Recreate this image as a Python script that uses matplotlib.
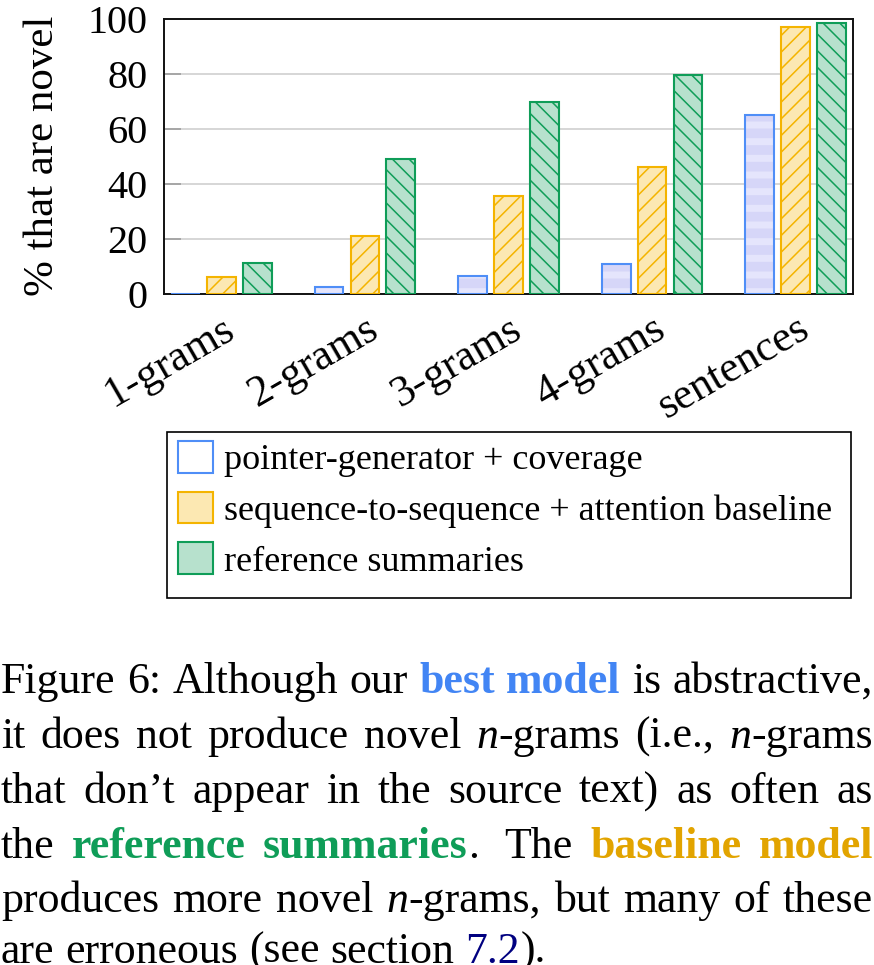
import matplotlib
matplotlib.use('Agg')
import matplotlib.pyplot as plt
import matplotlib.transforms as mtransforms
import numpy as np
from matplotlib.patches import Patch, Rectangle

plt.rcParams['font.family'] = ['Liberation Serif', 'DejaVu Serif']
plt.rcParams['hatch.linewidth'] = 1.1

# data
categories = ['1-grams', '2-grams', '3-grams', '4-grams', 'sentences']
pointer_gen = [0.1, 2.7, 6.7, 10.8, 65.1]
seq2seq = [6.3, 21.2, 35.6, 46.2, 97.0]
reference = [11.4, 49.1, 69.9, 79.8, 98.7]
series_labels = ['pointer-generator + coverage',
                 'sequence-to-sequence + attention baseline',
                 'reference summaries']
y_ticks = [0, 20, 40, 60, 80, 100]

# caption runs: (text, style)
caption = [
    [('Figure 6: Although our ', 'n'), ('best model', 'blue'), (' is abstractive,', 'n')],
    [('it does not produce novel ', 'n'), ('n', 'it'), ('-grams (i.e., ', 'n'), ('n', 'it'), ('-grams', 'n')],
    [('that don\u2019t appear in the source text) as often as', 'n')],
    [('the ', 'n'), ('reference summaries', 'green'), ('.  The ', 'n'), ('baseline model', 'gold')],
    [('produces more novel ', 'n'), ('n', 'it'), ('-grams, but many of these', 'n')],
    [('are erroneous (see section ', 'n'), ('7.2', 'link'), (').', 'n')],
]

BLUE, BLUE_FILL, BLUE_BAND = '#4f8ef7', '#d6d6f8', '#e5e5fc'
GOLD, GOLD_FILL = '#f4b400', '#fce8b2'
GREEN, GREEN_FILL = '#0f9d58', '#b7e1cd'

W, H = 874, 965
fig = plt.figure(figsize=(W / 100, H / 100), dpi=100)
ax = fig.add_axes([164 / W, 1 - 294 / H, (853 - 164) / W, (294 - 19) / H])

x = np.arange(len(categories))
bw, off = 0.2, 0.25

# pointer-generator: lavender with light horizontal bands, blue outline
bands = ax.bar(x - off, pointer_gen, bw, color=BLUE_FILL, edgecolor=BLUE_BAND,
               linewidth=0, hatch='-', zorder=2)
for p in bands:
    if hasattr(p, 'set_hatch_linewidth'):
        p.set_hatch_linewidth(5)
ax.bar(x - off, pointer_gen, bw, fill=False, edgecolor=BLUE, linewidth=1.5, zorder=3)
ax.bar(x, seq2seq, bw, facecolor=GOLD_FILL, edgecolor=GOLD, linewidth=1.5,
       hatch='//', zorder=3)
ax.bar(x + off, reference, bw, facecolor=GREEN_FILL, edgecolor=GREEN, linewidth=1.5,
       hatch='\\\\', zorder=3)

ax.set_xlim(-0.4, len(categories) - 0.6)
ax.set_ylim(0, 100)
ax.set_yticks(y_ticks)
ax.tick_params(axis='y', direction='in', length=12, width=1.1, color='#999999',
               pad=12, labelsize=29)
ax.set_xticks(x)
ax.set_xticklabels(categories, rotation=30, ha='right', va='center',
                   rotation_mode='anchor', fontsize=31.5)
ax.tick_params(axis='x', length=0, pad=23)
shift = mtransforms.ScaledTranslation(10 / 100, 0, fig.dpi_scale_trans)
for lab in ax.get_xticklabels():
    lab.set_transform(lab.get_transform() + shift)
ax.yaxis.grid(True, color='#cccccc', linewidth=1.1)
ax.set_axisbelow(True)
for s in ax.spines.values():
    s.set_linewidth(1.4)
    s.set_color('#111111')
ax.set_ylabel('% that are novel', fontsize=31)
ax.yaxis.set_label_coords(-0.148, 0.502)

# legend: frame drawn separately so its size matches the paper's box
fig.add_artist(Rectangle((167 / W, 1 - 598 / H), (851 - 167) / W, (598 - 432) / H,
                         transform=fig.transFigure, fill=False,
                         edgecolor='black', linewidth=1.2))
handles = [Patch(facecolor='white', edgecolor=BLUE, linewidth=1.5),
           Patch(facecolor=GOLD_FILL, edgecolor=GOLD, linewidth=1.5),
           Patch(facecolor=GREEN_FILL, edgecolor=GREEN, linewidth=1.5)]
leg = ax.legend(handles, series_labels, loc='upper left',
                bbox_to_anchor=(167 / W, 1 - 430 / H),
                bbox_transform=fig.transFigure, borderaxespad=0,
                fontsize=26, handlelength=0.98, handleheight=0.98,
                handletextpad=0.3, borderpad=0.3, labelspacing=0.4,
                frameon=False)

# caption, justified like the paper
cap_size = 31.6
styles = {
    'n': dict(color='black'),
    'it': dict(color='black', style='italic'),
    'blue': dict(color='#4285f4', weight='bold'),
    'green': dict(color='#0f9d58', weight='bold'),
    'gold': dict(color='#e2a400', weight='bold'),
    'link': dict(color='#000080'),
}
baselines = [693, 748, 803, 858, 912, 963]
renderer = fig.canvas.get_renderer()


def text_width(s, sty):
    t = fig.text(0, 0, s, fontsize=cap_size, **styles[sty])
    w = t.get_window_extent(renderer).width
    t.remove()
    return w


def split_words(runs):
    words, gaps, pending = [[]], [], 0
    for text, sty in runs:
        for k, part in enumerate(text.split(' ')):
            if k > 0:
                pending += 1
            if part:
                if pending and words[-1]:
                    words.append([])
                    gaps.append(1 + 0.5 * (pending - 1))
                pending = 0
                words[-1].append((part, sty))
    return words, gaps


space = text_width('a a', 'n') - text_width('aa', 'n')
left, right = 1, 873
for i, runs in enumerate(caption):
    words, gaps = split_words(runs)
    widths = [[text_width(s, sty) for s, sty in w] for w in words]
    total = sum(sum(w) for w in widths)
    if i < len(caption) - 1:
        unit = (right - left - total) / sum(gaps)
    else:
        unit = space
    xpos = left
    for j, w in enumerate(words):
        if j > 0:
            xpos += unit * gaps[j - 1]
        for (s, sty), wd in zip(w, widths[j]):
            fig.text(xpos / W, 1 - baselines[i] / H, s, fontsize=cap_size,
                     va='baseline', ha='left', **styles[sty])
            xpos += wd

fig.savefig('out.png', dpi=100)
